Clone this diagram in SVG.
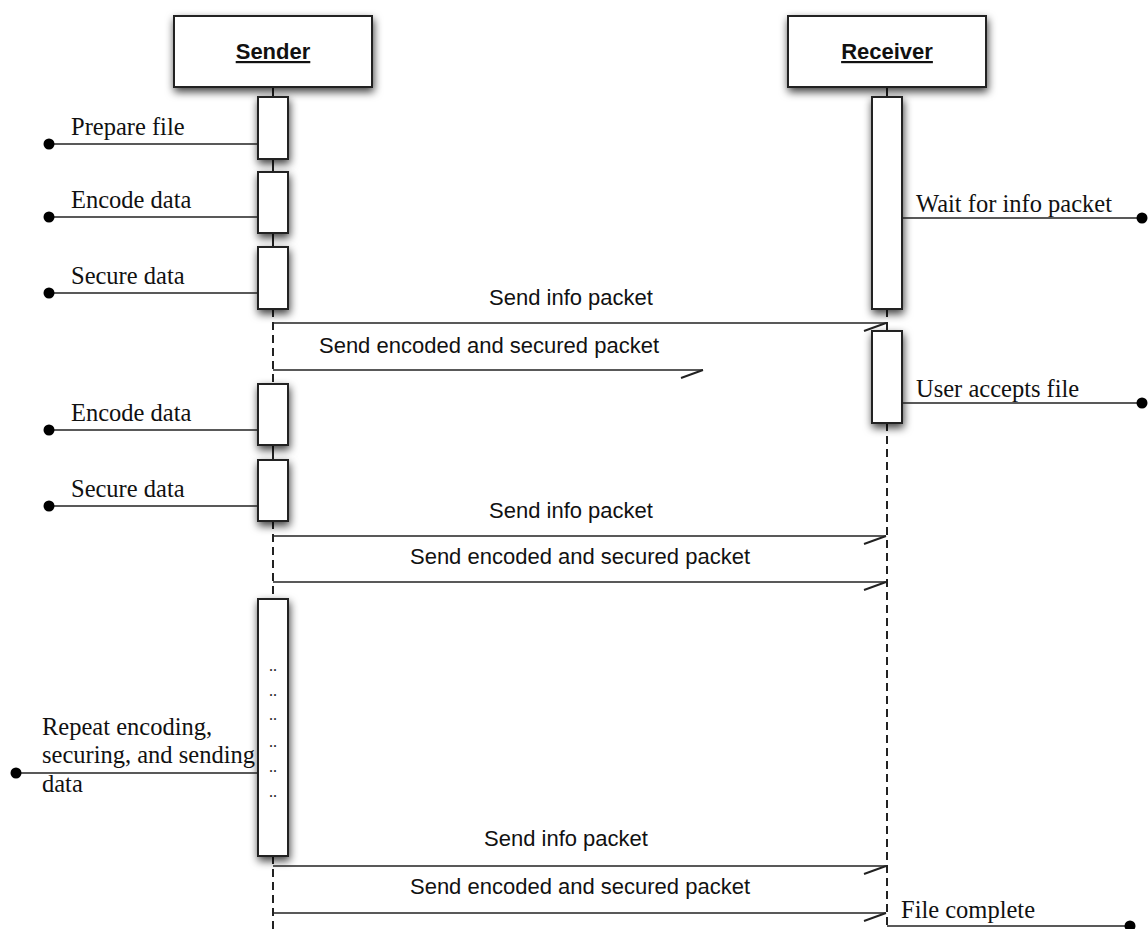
<svg xmlns="http://www.w3.org/2000/svg" width="1148" height="929" viewBox="0 0 1148 929">
  <defs>
    <filter id="shadow" x="-60%" y="-20%" width="220%" height="150%">
      <feDropShadow dx="1" dy="4" stdDeviation="4" flood-color="#000" flood-opacity="0.75"/>
    </filter>
    <marker id="half" markerUnits="userSpaceOnUse" markerWidth="30" markerHeight="20" refX="0" refY="0" orient="auto" overflow="visible">
      <path d="M0,0 L-22,8" fill="none" stroke="#222" stroke-width="2"/>
    </marker>
    <style>
      .box { fill: #fff; stroke: #222; stroke-width: 2; }
      .act { fill: #fff; stroke: #222; stroke-width: 2; }
      .life { stroke: #222; stroke-width: 2; fill: none; }
      .dash { stroke: #222; stroke-width: 2; stroke-dasharray: 8 5; fill: none; }
      .msg { stroke: #222; stroke-width: 1.6; fill: none; marker-end: url(#half); }
      .note { stroke: #222; stroke-width: 1.6; fill: none; }
      .dot { fill: #000; }
      .title { font-family: "Liberation Sans", Arial, sans-serif; font-weight: bold; font-size: 22px; text-decoration: underline; fill: #111; text-anchor: middle; }
      .lbl { font-family: "Liberation Sans", Arial, sans-serif; font-size: 22px; fill: #111; text-anchor: middle; }
      .srf { font-family: "Liberation Serif", "Times New Roman", serif; font-size: 24.5px; fill: #111; }
      .ell { font-family: "Liberation Serif", "Times New Roman", serif; font-size: 16px; fill: #222; text-anchor: middle; }
    </style>
  </defs>

  <!-- lifelines -->
  <g id="lifelines">
    <line class="life" x1="273" y1="87" x2="273" y2="97"/>
    <line class="life" x1="273" y1="159" x2="273" y2="172"/>
    <line class="life" x1="273" y1="233" x2="273" y2="247"/>
    <line class="dash" x1="273" y1="309" x2="273" y2="384"/>
    <line class="life" x1="273" y1="445" x2="273" y2="460"/>
    <line class="dash" x1="273" y1="521" x2="273" y2="599"/>
    <line class="dash" x1="273" y1="856" x2="273" y2="929"/>
    <line class="life" x1="887" y1="87" x2="887" y2="97"/>
    <line class="dash" x1="887" y1="309" x2="887" y2="331" stroke-dasharray="6 4"/>
    <line class="dash" x1="887" y1="423" x2="887" y2="929"/>
  </g>

  <!-- participants -->
  <g id="sender">
    <rect class="box" x="174" y="16" width="198" height="71" filter="url(#shadow)"/>
    <text class="title" x="273" y="59">Sender</text>
  </g>
  <g id="receiver">
    <rect class="box" x="788" y="16" width="198" height="71" filter="url(#shadow)"/>
    <text class="title" x="887" y="59">Receiver</text>
  </g>

  <!-- activation bars -->
  <g id="sender-prepare"><rect class="act" x="258" y="97" width="30" height="62" filter="url(#shadow)"/></g>
  <g id="sender-encode-1"><rect class="act" x="258" y="172" width="30" height="61" filter="url(#shadow)"/></g>
  <g id="sender-secure-1"><rect class="act" x="258" y="247" width="30" height="62" filter="url(#shadow)"/></g>
  <g id="sender-encode-2"><rect class="act" x="258" y="384" width="30" height="61" filter="url(#shadow)"/></g>
  <g id="sender-secure-2"><rect class="act" x="258" y="460" width="30" height="61" filter="url(#shadow)"/></g>
  <g id="sender-repeat">
    <rect class="act" x="258" y="599" width="30" height="257" filter="url(#shadow)"/>
    <text class="ell" x="273" y="671">..</text>
    <text class="ell" x="273" y="696">..</text>
    <text class="ell" x="273" y="720">..</text>
    <text class="ell" x="273" y="747">..</text>
    <text class="ell" x="273" y="772">..</text>
    <text class="ell" x="273" y="797">..</text>
  </g>
  <g id="receiver-wait"><rect class="act" x="872" y="97" width="30" height="212" filter="url(#shadow)"/></g>
  <g id="receiver-accept"><rect class="act" x="872" y="331" width="30" height="92" filter="url(#shadow)"/></g>

  <!-- connectors -->
  <g id="connectors">
    <line class="note" x1="49" y1="144" x2="258" y2="144"/>
    <line class="note" x1="49" y1="217" x2="258" y2="217"/>
    <line class="note" x1="49" y1="293" x2="258" y2="293"/>
    <line class="note" x1="49" y1="430" x2="258" y2="430"/>
    <line class="note" x1="49" y1="506" x2="258" y2="506"/>
    <line class="note" x1="16" y1="773" x2="258" y2="773"/>
    <line class="note" x1="902" y1="218" x2="1142" y2="218"/>
    <line class="note" x1="902" y1="403" x2="1142" y2="403"/>
    <line class="note" x1="887" y1="926" x2="1130" y2="926"/>

    <circle class="dot" cx="49" cy="144" r="5.5"/>
    <circle class="dot" cx="49" cy="217" r="5.5"/>
    <circle class="dot" cx="49" cy="293" r="5.5"/>
    <circle class="dot" cx="49" cy="430" r="5.5"/>
    <circle class="dot" cx="49" cy="506" r="5.5"/>
    <circle class="dot" cx="16" cy="773" r="5.5"/>
    <circle class="dot" cx="1142" cy="218" r="5.5"/>
    <circle class="dot" cx="1142" cy="403" r="5.5"/>
    <circle class="dot" cx="1130" cy="926" r="5.5"/>

    <line class="msg" x1="273" y1="323" x2="886" y2="323"/>
    <line class="msg" x1="273" y1="370" x2="703" y2="370"/>
    <line class="msg" x1="273" y1="536" x2="886" y2="536"/>
    <line class="msg" x1="273" y1="582" x2="886" y2="582"/>
    <line class="msg" x1="273" y1="866" x2="886" y2="866"/>
    <line class="msg" x1="273" y1="913" x2="886" y2="913"/>
  </g>

  <!-- labels -->
  <g id="labels">
    <text class="srf" x="71" y="135">Prepare file</text>
    <text class="srf" x="71" y="208">Encode data</text>
    <text class="srf" x="71" y="284">Secure data</text>
    <text class="srf" x="71" y="421">Encode data</text>
    <text class="srf" x="71" y="497">Secure data</text>
    <text class="srf" x="42" y="735">Repeat encoding,</text>
    <text class="srf" x="42" y="763">securing, and sending</text>
    <text class="srf" x="42" y="792">data</text>
    <text class="srf" x="916" y="212">Wait for info packet</text>
    <text class="srf" x="916" y="397">User accepts file</text>
    <text class="srf" x="901" y="918">File complete</text>

    <text class="lbl" x="571" y="305">Send info packet</text>
    <text class="lbl" x="489" y="353">Send encoded and secured packet</text>
    <text class="lbl" x="571" y="518">Send info packet</text>
    <text class="lbl" x="580" y="564">Send encoded and secured packet</text>
    <text class="lbl" x="566" y="846">Send info packet</text>
    <text class="lbl" x="580" y="894">Send encoded and secured packet</text>
  </g>
</svg>
